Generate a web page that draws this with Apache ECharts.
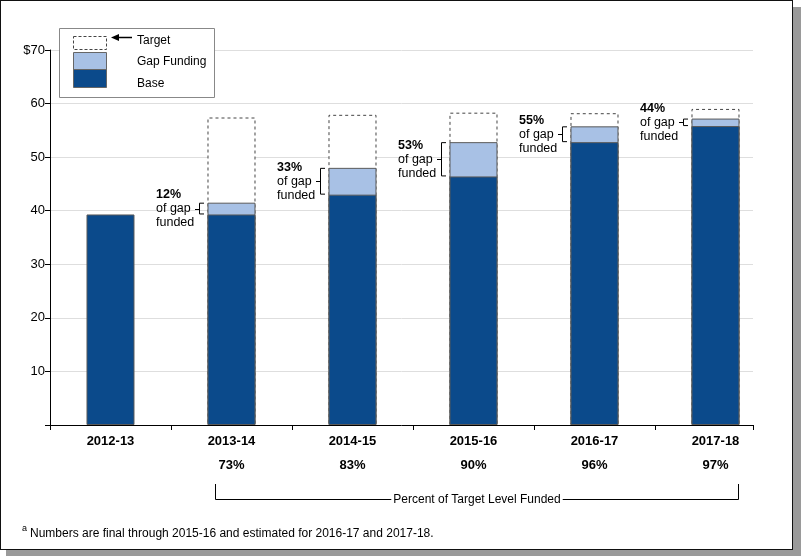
<!DOCTYPE html>
<html>
<head>
<meta charset="utf-8">
<script src="https://cdn.jsdelivr.net/npm/echarts@6/dist/echarts.min.js"></script>
<style>
  html, body { margin: 0; padding: 0; background: #fff; }
  #shadow { position: absolute; left: 6px; top: 7px; width: 795px; height: 549px; background: #9a9a9a; }
  #frame { position: absolute; left: 0; top: 0; width: 793px; height: 550px; box-sizing: border-box; border: 1.5px solid #111; background: #fff; }
  #chart { position: absolute; left: 0; top: 0; width: 801px; height: 559px; }
</style>
</head>
<body>
<div id="shadow"></div>
<div id="frame"></div>
<div id="chart"></div>
<script>
const categories = ['2012-13', '2013-14', '2014-15', '2015-16', '2016-17', '2017-18'];
const baseValues = [39.3, 39.3, 43.0, 46.4, 52.8, 55.8];
const gapValues = [null, 2.2, 5.0, 6.4, 2.95, 1.4];
const targetValues = [null, 57.4, 57.9, 58.3, 58.2, 59.0];
const gapFundedLabels = ['', '12%', '33%', '53%', '55%', '44%'];
const targetFundedLabels = ['', '73%', '83%', '90%', '96%', '97%'];

const FONT = "'Liberation Sans', Arial, Helvetica, sans-serif";
const BASE_COLOR = '#0b4a8b';
const GAP_COLOR = '#a8c1e5';
const BAR_W = 48;
const X_MAX = 5.81;

const pos = (i) => i + 0.5;
const baseData = baseValues.map((v, i) => [pos(i), v]);
const gapTopData = gapValues.map((v, i) => [pos(i), v == null ? '-' : +(baseValues[i] + v).toFixed(3)]);
const targetData = targetValues.map((t, i) => [pos(i), t == null ? '-' : t]);

const chart = echarts.init(document.getElementById('chart'), null, { renderer: 'canvas' });

chart.setOption({
  backgroundColor: 'transparent',
  animation: false,
  textStyle: { fontFamily: FONT },
  grid: { left: 50, right: 48, top: 50, bottom: 134, containLabel: false },
  xAxis: [
    {
      type: 'value', min: 0, max: X_MAX, interval: 1,
      axisLine: { show: true, lineStyle: { color: '#000', width: 1 } },
      axisTick: { show: true, inside: false, length: 5, lineStyle: { color: '#000' } },
      axisLabel: { show: false },
      splitLine: { show: false }
    },
    {
      type: 'value', min: 0, max: X_MAX, interval: 0.5, position: 'bottom',
      axisLine: { show: false }, axisTick: { show: false }, splitLine: { show: false },
      axisLabel: {
        show: true, margin: 10, verticalAlign: 'top',
        formatter: function (v) {
          const f = v - Math.floor(v);
          if (Math.abs(f - 0.5) > 1e-6) return '';
          const i = Math.floor(v);
          if (i < 0 || i >= categories.length) return '';
          return '{c|' + categories[i] + '}\n{p|' + (targetFundedLabels[i] || ' ') + '}';
        },
        rich: {
          c: { fontFamily: FONT, fontSize: 13, fontWeight: 'bold', color: '#000', lineHeight: 24, verticalAlign: 'top' },
          p: { fontFamily: FONT, fontSize: 13, fontWeight: 'bold', color: '#000', lineHeight: 24, verticalAlign: 'top' }
        }
      }
    }
  ],
  yAxis: {
    type: 'value', min: 0, max: 70, interval: 10,
    axisLine: { show: true, lineStyle: { color: '#000', width: 1 } },
    axisTick: { show: true, length: 5, lineStyle: { color: '#000' } },
    axisLabel: {
      color: '#000', fontSize: 13, fontFamily: FONT, margin: 5,
      formatter: function (v) { return v === 0 ? '' : (v === 70 ? '$' + v : String(v)); }
    },
    splitLine: { show: true, lineStyle: { color: '#dedede', width: 1 } }
  },
  series: [
    {
      name: 'Target', type: 'bar', xAxisIndex: 0, barWidth: BAR_W, barGap: '-100%', data: targetData, z: 2,
      itemStyle: { color: '#fff', borderColor: '#444', borderWidth: 1, borderType: [3, 3] }
    },
    {
      name: 'Gap Funding', type: 'bar', xAxisIndex: 0, barWidth: BAR_W, barGap: '-100%', data: gapTopData, z: 3,
      itemStyle: { color: GAP_COLOR, borderColor: '#5a5a5a', borderWidth: 1 }
    },
    {
      name: 'Base', type: 'bar', xAxisIndex: 0, barWidth: BAR_W, barGap: '-100%', data: baseData, z: 4,
      itemStyle: { color: BASE_COLOR, borderColor: '#5a5a5a', borderWidth: 1 }
    }
  ]
});

function px(x, y) { return chart.convertToPixel({ xAxisIndex: 0, yAxisIndex: 0 }, [x, y]); }

const g = [];
for (let i = 0; i < categories.length; i++) {
  if (!gapFundedLabels[i]) continue;
  const c = px(pos(i), 0)[0];
  const bl = Math.round(c - BAR_W / 2);
  const top = px(pos(i), baseValues[i] + gapValues[i])[1];
  const bot = px(pos(i), baseValues[i])[1];
  const mid = (top + bot) / 2;
  g.push({
    type: 'polyline', z: 100,
    shape: { points: [[bl - 3, top + 0.5], [bl - 7.5, top + 0.5], [bl - 7.5, bot - 0.5], [bl - 3, bot - 0.5]] },
    style: { stroke: '#000', lineWidth: 1, fill: null }
  });
  g.push({
    type: 'line', z: 100,
    shape: { x1: bl - 12, y1: Math.round(mid) + 0.5, x2: bl - 7.5, y2: Math.round(mid) + 0.5 },
    style: { stroke: '#000', lineWidth: 1 }
  });
  g.push({
    type: 'text', z: 100, x: bl - 51, y: mid,
    style: {
      text: '{b|' + gapFundedLabels[i] + '}\n{n|of gap}\n{n|funded}',
      verticalAlign: 'middle', align: 'left',
      rich: {
        b: { fontFamily: FONT, fontSize: 12.5, fontWeight: 'bold', fill: '#000', lineHeight: 14 },
        n: { fontFamily: FONT, fontSize: 12.5, fill: '#000', lineHeight: 14 }
      }
    }
  });
}

g.push({ type: 'rect', z: 100, shape: { x: 59.5, y: 28.5, width: 155, height: 69 }, style: { fill: '#fff', stroke: '#888', lineWidth: 1 } });
g.push({ type: 'rect', z: 101, shape: { x: 73.5, y: 36.5, width: 33, height: 13 }, style: { fill: null, stroke: '#444', lineWidth: 1, lineDash: [3, 2] } });
g.push({ type: 'rect', z: 101, shape: { x: 73.5, y: 52.5, width: 33, height: 17 }, style: { fill: GAP_COLOR, stroke: '#666', lineWidth: 1 } });
g.push({ type: 'rect', z: 101, shape: { x: 73.5, y: 69.5, width: 33, height: 18 }, style: { fill: BASE_COLOR, stroke: '#666', lineWidth: 1 } });
g.push({ type: 'line', z: 101, shape: { x1: 117, y1: 37.5, x2: 132, y2: 37.5 }, style: { stroke: '#000', lineWidth: 1.5 } });
g.push({ type: 'polygon', z: 101, shape: { points: [[111, 37.5], [119, 34], [119, 41]] }, style: { fill: '#000' } });
[['Target', 41], ['Gap Funding', 62], ['Base', 84]].forEach(function (t) {
  g.push({ type: 'text', z: 101, x: 137, y: t[1], style: { text: t[0], fontFamily: FONT, fontSize: 12, fill: '#000', verticalAlign: 'middle' } });
});

const bx1 = Math.round(px(pos(1), 0)[0] - 16) + 0.5;
const bx2 = Math.round(px(pos(5), 0)[0] + 23) + 0.5;
const by1 = 484, by2 = 499.5;
g.push({ type: 'polyline', z: 100, shape: { points: [[bx1, by1], [bx1, by2], [bx2, by2], [bx2, by1]] }, style: { stroke: '#000', lineWidth: 1, fill: null } });
g.push({
  type: 'text', z: 101, x: (bx1 + bx2) / 2, y: by2,
  style: {
    text: 'Percent of Target Level Funded', fontFamily: FONT, fontSize: 12, fill: '#000',
    align: 'center', verticalAlign: 'middle', backgroundColor: '#fff', padding: [0, 2]
  }
});

g.push({ type: 'text', z: 100, x: 22, y: 529, style: { text: 'a', fontFamily: FONT, fontSize: 9, fill: '#000', verticalAlign: 'middle' } });
g.push({ type: 'text', z: 100, x: 30, y: 534, style: { text: 'Numbers are final through 2015-16 and estimated for 2016-17 and 2017-18.', fontFamily: FONT, fontSize: 12, fill: '#000', verticalAlign: 'middle' } });

chart.setOption({ graphic: g });
</script>
</body>
</html>
